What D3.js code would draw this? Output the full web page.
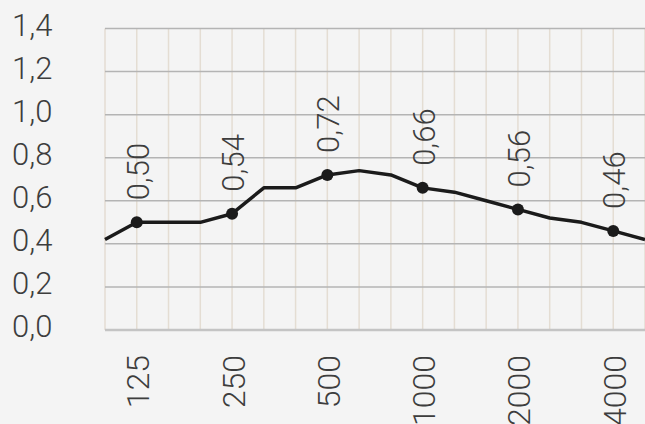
<!DOCTYPE html>
<html>
<head>
<meta charset="utf-8">
<script src="https://cdn.jsdelivr.net/npm/d3@7"></script>
<style>
  html, body { margin: 0; padding: 0; background: #f4f4f4; }
  svg { display: block; }
  text { font-family: Roboto, "Liberation Sans Narrow", sans-serif; font-weight: 300; fill: #3d3d3d; }
</style>
</head>
<body>
<div id="chart"></div>
<script>
// 1/3-octave bands (Hz) and the absorption curve
const bands = ["100", "125", "160", "200", "250", "315", "400", "500", "630", "800",
               "1000", "1250", "1600", "2000", "2500", "3150", "4000", "5000"];
const absorption = [0.42, 0.50, 0.50, 0.50, 0.54, 0.66, 0.66, 0.72, 0.74, 0.72,
                    0.66, 0.64, 0.60, 0.56, 0.52, 0.50, 0.46, 0.42];

// octave bands with markers and value labels
const octaveBands = ["125", "250", "500", "1000", "2000", "4000"];
const octaveValues = [0.50, 0.54, 0.72, 0.66, 0.56, 0.46];
const octaveLabels = ["0,50", "0,54", "0,72", "0,66", "0,56", "0,46"];

const yTicks = [0, 0.2, 0.4, 0.6, 0.8, 1.0, 1.2, 1.4];

const width = 645, height = 424;
const margin = { top: 28.5, right: 0, bottom: 94, left: 105 };

const svg = d3.select("#chart").append("svg")
  .attr("width", width)
  .attr("height", height);

const x = d3.scalePoint()
  .domain(bands)
  .range([margin.left, width - margin.right]);

const y = d3.scaleLinear()
  .domain([0, 1.4])
  .range([height - margin.bottom, margin.top]);

const fmt = v => d3.format(".1f")(v).replace(".", ",");

// vertical grid (every 1/3 octave)
svg.append("g")
  .selectAll("line")
  .data(bands)
  .join("line")
  .attr("x1", d => x(d)).attr("x2", d => x(d))
  .attr("y1", y(1.4)).attr("y2", y(0))
  .attr("stroke", "#e4ddd3")
  .attr("stroke-width", 1.5);

// horizontal grid
svg.append("g")
  .selectAll("line")
  .data(yTicks)
  .join("line")
  .attr("x1", margin.left).attr("x2", width)
  .attr("y1", d => y(d)).attr("y2", d => y(d))
  .attr("stroke", d => d === 0 ? "#c4c4c4" : "#b4b4b4")
  .attr("stroke-width", d => d === 0 ? 2.5 : 1.5);

// y labels
svg.append("g")
  .selectAll("text")
  .data(yTicks)
  .join("text")
  .attr("x", 12)
  .attr("y", d => y(d) + 7)
  .attr("font-size", 31)
  .text(fmt);

// x labels (octave bands), rotated; the longer ones run off the bottom as in the original
svg.append("g")
  .selectAll("text")
  .data(octaveBands)
  .join("text")
  .attr("transform", d => `translate(${x(d) + 12.5},355) rotate(-90)`)
  .attr("text-anchor", "end")
  .attr("font-size", 32)
  .text(d => d);

// curve
const line = d3.line()
  .x((d, i) => x(bands[i]))
  .y(d => y(d));

svg.append("path")
  .datum(absorption)
  .attr("d", line)
  .attr("fill", "none")
  .attr("stroke", "#1b1b1b")
  .attr("stroke-width", 3.5)
  .attr("stroke-linejoin", "round");

// markers
svg.append("g")
  .selectAll("circle")
  .data(octaveBands)
  .join("circle")
  .attr("cx", d => x(d))
  .attr("cy", (d, i) => y(octaveValues[i]))
  .attr("r", 6)
  .attr("fill", "#1b1b1b");

// value labels, rotated
svg.append("g")
  .selectAll("text")
  .data(octaveBands)
  .join("text")
  .attr("transform", (d, i) => `translate(${x(d) + 12},${y(octaveValues[i]) - 22}) rotate(-90)`)
  .attr("font-size", 31)
  .text((d, i) => octaveLabels[i]);
</script>
</body>
</html>
